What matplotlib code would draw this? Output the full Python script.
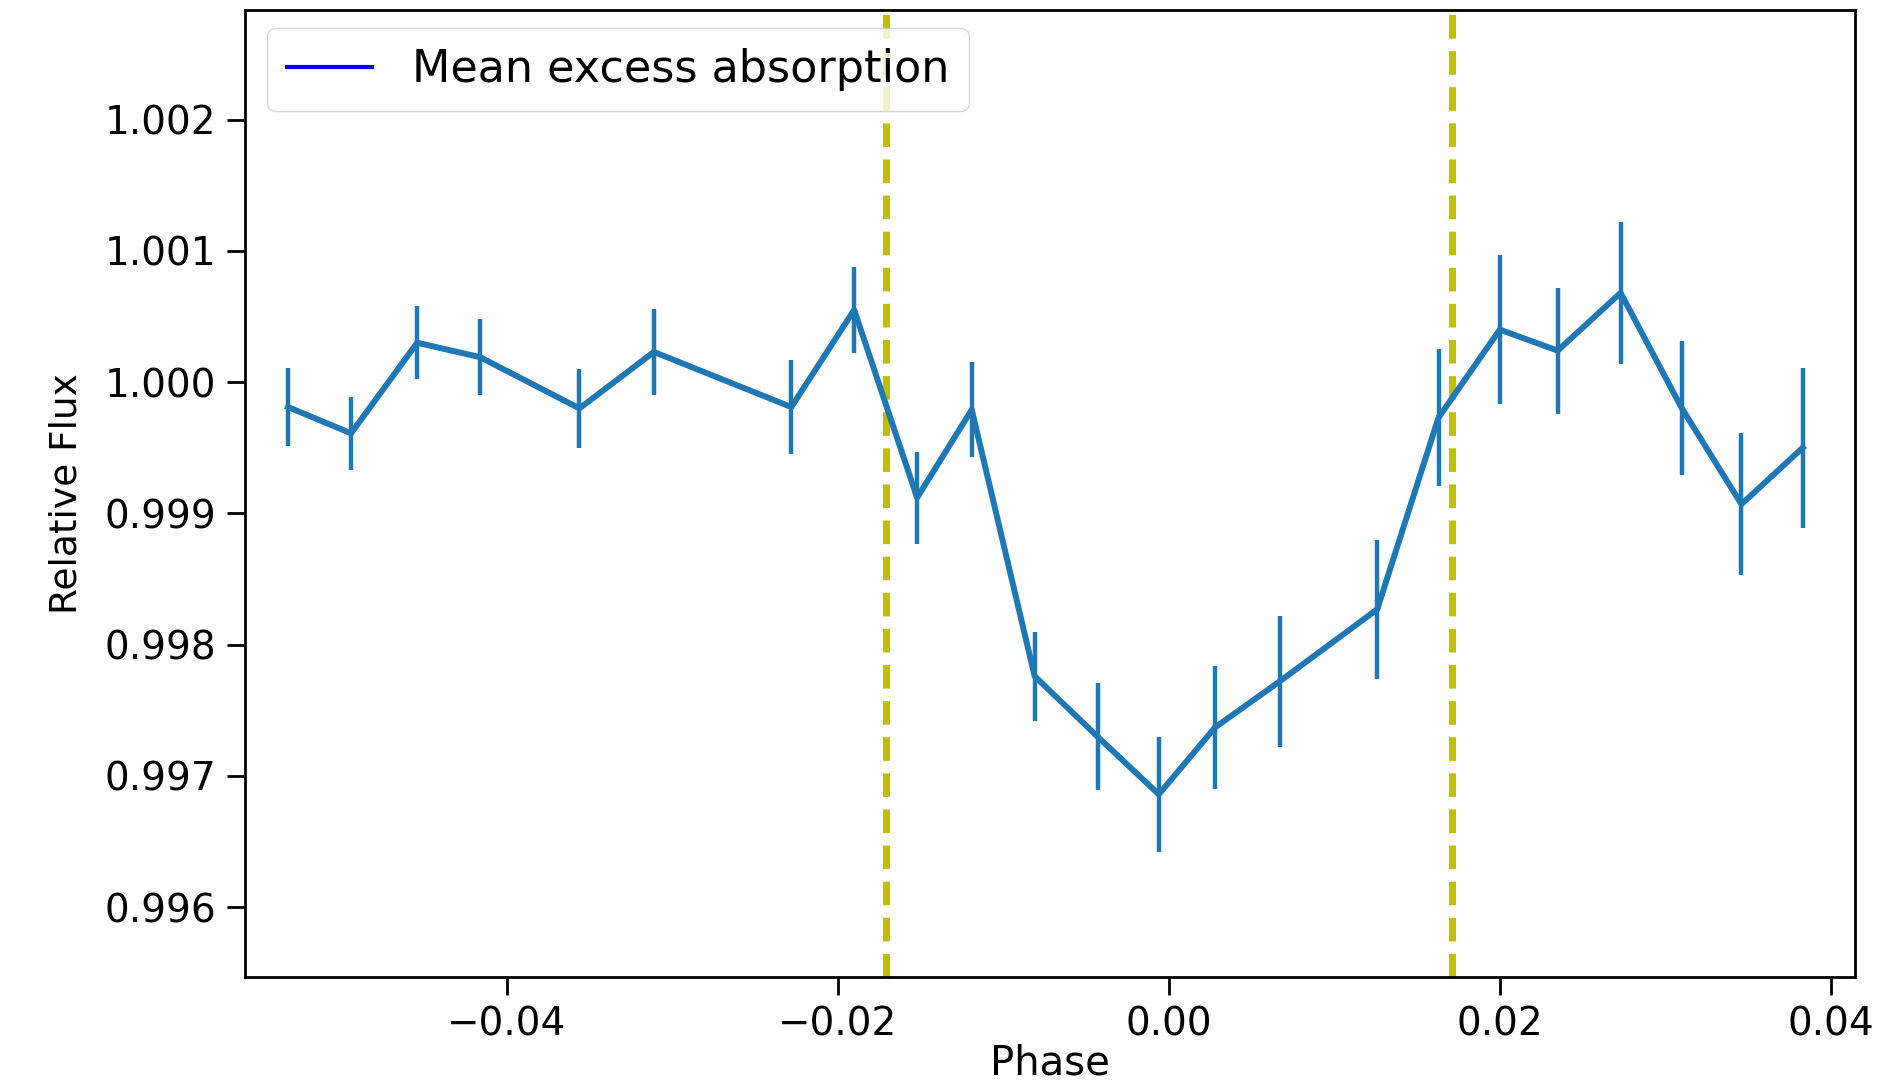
import matplotlib
matplotlib.use("Agg")
import matplotlib.pyplot as plt
from matplotlib.lines import Line2D

# phase-folded mean excess absorption
phase = [-0.0532, -0.0494, -0.0454, -0.0416, -0.0356, -0.0311, -0.0228, -0.0190,
         -0.0152, -0.0119, -0.0081, -0.0043, -0.0006, 0.0028, 0.0067, 0.0126,
         0.0163, 0.0200, 0.0235, 0.0273, 0.0310, 0.0346, 0.0383]
flux = [0.99981, 0.99961, 1.00030, 1.00019, 0.99980, 1.00023, 0.99981, 1.00055,
        0.99912, 0.99979, 0.99776, 0.99730, 0.99686, 0.99737, 0.99772, 0.99827,
        0.99973, 1.00040, 1.00024, 1.00068, 0.99980, 0.99907, 0.99950]
flux_err = [0.00030, 0.00028, 0.00028, 0.00029, 0.00030, 0.00033, 0.00036, 0.00033,
            0.00035, 0.00036, 0.00034, 0.00041, 0.00044, 0.00047, 0.00050, 0.00053,
            0.00052, 0.00057, 0.00048, 0.00054, 0.00051, 0.00054, 0.00061]

# transit ingress / egress
t_contacts = [-0.0171, 0.0171]

fig = plt.figure(figsize=(18.85, 10.89), dpi=100)
ax = fig.add_axes([0.130, 0.103, 0.854, 0.888])

ax.errorbar(phase, flux, yerr=flux_err, color='C0', lw=4.3, elinewidth=3.2)
for t in t_contacts:
    ax.axvline(t, color='y', ls='--', lw=5, dashes=(3.4, 1.8), zorder=1)

handles = [Line2D([0], [0], color='b', lw=3)]
ax.legend(handles, ['Mean excess absorption'], loc='upper left', fontsize=32,
          handlelength=1.9, handletextpad=0.9, borderpad=0.45,
          bbox_to_anchor=(0.0, 1.004))

ax.set_xlim(-0.0558, 0.04145)
ax.set_ylim(0.99547, 1.002836)
ax.set_xticks([-0.04, -0.02, 0.00, 0.02, 0.04])
ax.set_yticks([0.996, 0.997, 0.998, 0.999, 1.000, 1.001, 1.002])
ax.ticklabel_format(useOffset=False)
ax.set_xlabel('Phase', fontsize=29, labelpad=0)
ax.set_ylabel('Relative Flux', fontsize=27, labelpad=14)
ax.tick_params(labelsize=28, length=13, width=2, pad=8)
for s in ax.spines.values():
    s.set_linewidth(2)

fig.savefig('out.png', dpi=100)
